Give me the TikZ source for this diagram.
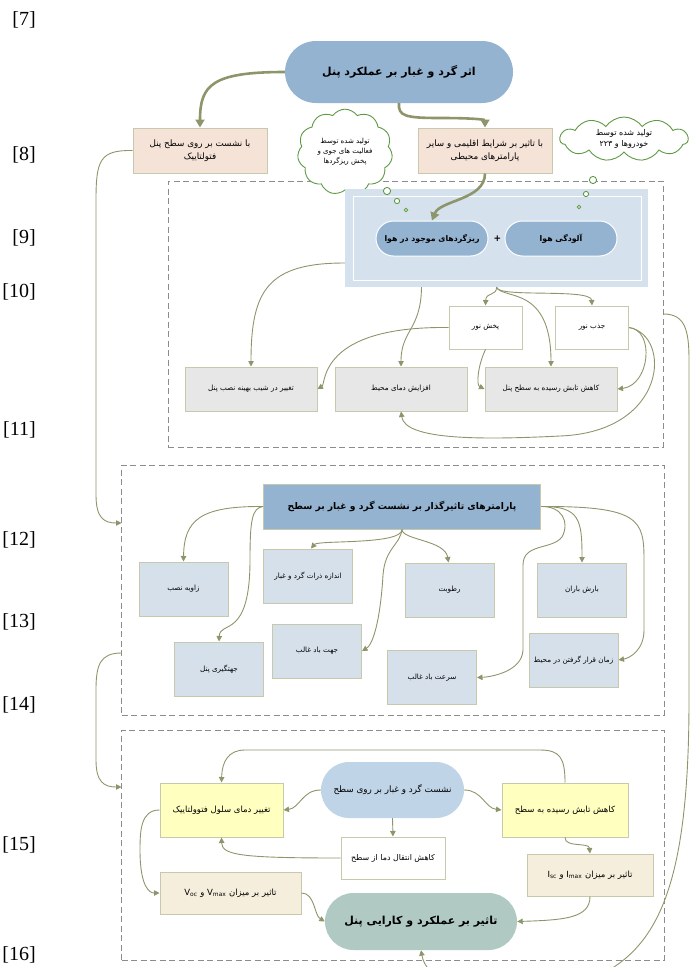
\documentclass[tikz,border=0pt]{standalone}
\usepackage{fontspec}
\setmainfont{Liberation Serif}
\newfontfamily\fa[Script=Arabic]{DejaVu Sans}
\TeXXeTstate=1
\newcommand\fatx[1]{\beginR #1\endR}
\usetikzlibrary{shapes.symbols,arrows.meta}
\definecolor{conn}{RGB}{141,150,107}
\definecolor{bord}{RGB}{198,201,172}
\definecolor{pblue}{RGB}{148,179,208}
\definecolor{peach}{RGB}{246,227,216}
\definecolor{gbox}{RGB}{232,231,232}
\definecolor{panelc}{RGB}{213,225,237}
\definecolor{lbox}{RGB}{213,224,235}
\definecolor{spill}{RGB}{191,212,231}
\definecolor{yel}{RGB}{255,255,192}
\definecolor{cream}{RGB}{245,238,220}
\definecolor{fpill}{RGB}{176,201,194}
\definecolor{cgreen}{RGB}{94,154,69}
\definecolor{dgray}{RGB}{140,140,140}
\begin{document}
\begin{tikzpicture}[x=1pt,y=-1pt,
  arr/.style={draw=conn, line width=0.9pt, -{Triangle[length=5.5pt,width=5.5pt]}},
  thk/.style={draw=conn, line width=2.6pt, -{Triangle[length=8pt,width=9pt]}},
  bx/.style={draw=bord, line width=1pt, inner sep=1pt, align=center, font=\fa\fontsize{7.2}{10}\selectfont},
  bxl/.style={bx, font=\fa\fontsize{8.5}{11}\selectfont},
  pillb/.style={draw=white, line width=1pt, fill=pblue, minimum width=112pt, minimum height=35pt, rounded corners=17.5pt, font=\fa\bfseries\fontsize{7.8}{9}\selectfont},
  cloudn/.style={cloud, cloud puffs=11, cloud puff arc=110, draw=cgreen, line width=0.9pt, fill=white, inner sep=0pt, align=center},
  bub/.style={draw=cgreen, line width=0.9pt, fill=white},
  dashbox/.style={draw=dgray, line width=0.9pt, dash pattern=on 6pt off 3.5pt, inner sep=0pt},
  lab/.style={anchor=east, inner sep=0pt, font=\fontsize{20}{24}\selectfont}
]
\useasboundingbox (0,0) rectangle (694,967);
% side labels
\node[lab] (l7) at (36,20) {[7]};
\node[lab] (l8) at (36,155) {[8]};
\node[lab] (l9) at (36,238) {[9]};
\node[lab] (l10) at (36,292) {[10]};
\node[lab] (l11) at (36,430) {[11]};
\node[lab] (l12) at (36,540) {[12]};
\node[lab] (l13) at (36,622) {[13]};
\node[lab] (l14) at (36,705) {[14]};
\node[lab] (l15) at (36,845) {[15]};
\node[lab] (l16) at (36,955) {[16]};

% dashed containers
\node[dashbox, minimum width=495pt, minimum height=266pt] (d1) at (415.5,314) {};
\node[dashbox, minimum width=542.5pt, minimum height=250pt] (d2) at (392.75,590) {};
\node[dashbox, minimum width=542.5pt, minimum height=230pt] (d3) at (392.75,845) {};

% top
\node[fill=pblue, minimum width=228pt, minimum height=62pt, rounded corners=31pt, font=\fa\bfseries\fontsize{11}{12}\selectfont] (top) at (399,72) {\fatx{اثر گرد و غبار بر عملکرد پنل}};
\node[bx, fill=peach, minimum width=134pt, minimum height=45pt, font=\fa\fontsize{8.8}{13}\selectfont] (b1) at (200,150.5) {\fatx{با نشست بر روی سطح پنل}\\\fatx{فتولتاییک}};
\node[bx, fill=peach, minimum width=134pt, minimum height=45pt, font=\fa\fontsize{8.8}{13}\selectfont] (b2) at (485,150.5) {\fatx{با تاثیر بر شرایط اقلیمی و سایر}\\\fatx{پارامترهای محیطی}};

% clouds
\node[cloudn, minimum width=95pt, minimum height=68pt, font=\fa\fontsize{7}{10}\selectfont] (c1) at (345,152) {\fatx{تولید شده توسط}\\\fatx{فعالیت های جوی و}\\\fatx{پخش ریزگردها}};
\node[cloudn, aspect=2.9, minimum width=128pt, minimum height=44pt, font=\fa\fontsize{8}{11}\selectfont] (c2) at (624,139) {\fatx{تولید شده توسط}\\\fatx{خودروها و ۲۲۳}};

% panel
\node[fill=panelc, minimum width=303pt, minimum height=98pt, inner sep=0pt] (panel) at (496.5,238) {};
\node[draw=white, line width=1pt, minimum width=288pt, minimum height=84pt, inner sep=0pt] (inner) at (497,238) {};
\draw[bub] (387,191) circle (3.6);
\draw[bub] (397,201) circle (2.6);
\draw[bub] (406,210) circle (1.8);
\draw[bub] (593,180) circle (3.6);
\draw[bub] (586,194) circle (2.6);
\draw[bub] (579,207) circle (1.8);
\node[pillb] (p1) at (432,238.5) {\fatx{ریزگردهای موجود در هوا}};
\node[pillb] (p2) at (561,238.5) {\fatx{آلودگی هوا}};
\node[font=\fa\bfseries\fontsize{9}{9}\selectfont, inner sep=0pt] (plus) at (497.5,239) {+};

% box1 nodes
\node[bx, fill=white, minimum width=73pt, minimum height=43pt] (w1) at (485.5,327.5) {\fatx{پخش نور}};
\node[bx, fill=white, minimum width=73pt, minimum height=43pt] (w2) at (592,327.5) {\fatx{جذب نور}};
\node[bx, fill=gbox, minimum width=132pt, minimum height=44pt] (g1) at (251,389) {\fatx{تغییر در شیب بهینه نصب پنل}};
\node[bx, fill=gbox, minimum width=132pt, minimum height=44pt] (g2) at (401,389) {\fatx{افزایش دمای محیط}};
\node[bx, fill=gbox, minimum width=132pt, minimum height=44pt] (g3) at (551,389) {\fatx{کاهش تابش رسیده به سطح پنل}};

% box2 nodes
\node[bx, fill=pblue, minimum width=277pt, minimum height=45pt, font=\fa\bfseries\fontsize{9.2}{12}\selectfont] (h) at (402,506.5) {\fatx{پارامترهای تاثیرگذار بر نشست گرد و غبار بر سطح}};
\node[bx, fill=lbox, minimum width=89pt, minimum height=54pt] (q1) at (183.5,589) {\fatx{زاویه نصب}};
\node[bx, fill=lbox, minimum width=89pt, minimum height=54pt] (q2) at (308,576) {\fatx{اندازه ذرات گرد و غبار}};
\node[bx, fill=lbox, minimum width=89pt, minimum height=54pt] (q3) at (449.5,590) {\fatx{رطوبت}};
\node[bx, fill=lbox, minimum width=89pt, minimum height=54pt] (q4) at (582,590) {\fatx{بارش باران}};
\node[bx, fill=lbox, minimum width=89pt, minimum height=54pt] (q5) at (219,669) {\fatx{جهتگیری پنل}};
\node[bx, fill=lbox, minimum width=89pt, minimum height=54pt] (q6) at (317,651) {\fatx{جهت باد غالب}};
\node[bx, fill=lbox, minimum width=89pt, minimum height=54pt] (q7) at (432,677.5) {\fatx{سرعت باد غالب}};
\node[bx, fill=lbox, minimum width=89pt, minimum height=54pt] (q8) at (573.5,660) {\fatx{زمان قرار گرفتن در محیط}};

% box3 nodes
\node[fill=spill, minimum width=143pt, minimum height=56pt, rounded corners=28pt, font=\fa\fontsize{8.8}{10}\selectfont] (s) at (392.5,790) {\fatx{نشست گرد و غبار بر روی سطح}};
\node[bxl, fill=yel, minimum width=123pt, minimum height=54pt] (y1) at (221.5,810) {\fatx{تغییر دمای سلول فتوولتاییک}};
\node[bxl, fill=yel, minimum width=126pt, minimum height=54pt] (y2) at (565,810) {\fatx{کاهش تابش رسیده به سطح}};
\node[bxl, fill=white, minimum width=104pt, minimum height=42pt, font=\fa\fontsize{7.9}{10}\selectfont] (t) at (393,858) {\fatx{کاهش انتقال دما از سطح}};
\node[bxl, fill=cream, minimum width=141pt, minimum height=42pt] (v) at (230.5,893) {\fatx{تاثیر بر میزان \beginL V\textsubscript{max}\endL{} و \beginL V\textsubscript{oc}\endL}};
\node[bxl, fill=cream, minimum width=126pt, minimum height=42pt] (i) at (590,875) {\fatx{تاثیر بر میزان \beginL I\textsubscript{max}\endL{} و \beginL I\textsubscript{sc}\endL}};
\node[fill=fpill, minimum width=192pt, minimum height=57pt, rounded corners=28.5pt, font=\fa\bfseries\fontsize{11}{12}\selectfont] (f) at (421,921.5) {\fatx{تاثیر بر عملکرد و کارایی پنل}};

% coordinates for container ends
\coordinate (d2in) at (121.5,523);
\coordinate (d2out) at (121.5,653);
\coordinate (d3in) at (121.5,787);

% thick arrows
\draw[thk] (top.west) .. controls (212,72) and (200,85) .. (b1.north);
\draw[thk] (top.south) .. controls (398,116) and (405,118) .. (440,118) .. controls (478,118) and (485,120) .. (b2.north);
\draw[thk] (b2.south) .. controls (485,200) and (440,200) .. (p1.north);

% box1 arrows
\draw[arr] ([yshift=-25pt]panel.west) .. controls (268,263) and (251,290) .. (g1.north);
\draw[arr] ([xshift=-75pt]panel.south) .. controls (421,330) and (401,330) .. (g2.north);
\draw[arr] (panel.south) .. controls (497,296) and (486,292) .. (w1.north);
\draw[arr] (panel.south) .. controls (497,298) and (591,288) .. (w2.north);
\draw[arr] (panel.south) .. controls (503,300) and (551,285) .. (g3.north);
\draw[arr] (w1.west) .. controls (318,326) and (326,384) .. (g1.east);
\draw[arr] (w1.south) .. controls (478,365) and (476,385) .. (g3.west);
\draw[arr] (w2.east) .. controls (655,330) and (650,385) .. (g3.east);
\draw[arr] (w2.east) .. controls (672,335) and (668,432) .. (560,436) .. controls (480,440) and (405,440) .. (g2.south);

% long connectors
\draw[arr] (b1.west) .. controls (100,150) and (96,160) .. (96,200) -- (96,495) .. controls (96,518) and (104,523) .. (d2in);
\draw[arr] (d2out) .. controls (100,653) and (96,665) .. (96,690) -- (96,760) .. controls (96,782) and (104,787) .. (d3in);
\draw[arr] (d1.east) .. controls (685,314) and (689,330) .. (689,360) -- (689,700) .. controls (689,880) and (660,945) .. (600,975) .. controls (540,1000) and (430,1000) .. (f.south);

% box2 arrows
\draw[arr] (h.west) .. controls (200,506) and (184,520) .. (q1.north);
\draw[arr] (h.west) .. controls (252,508) and (250,520) .. (250,560) .. controls (250,640) and (220,620) .. (q5.north);
\draw[arr] (h.south) .. controls (402,545) and (318,540) .. ([xshift=3pt]q2.north);
\draw[arr] (h.south) .. controls (402,540) and (445,540) .. ([xshift=-1pt]q3.north);
\draw[arr] (h.south) .. controls (400,545) and (385,548) .. (383,575) .. controls (380,625) and (372,645) .. (q6.east);
\draw[arr] (h.east) .. controls (580,506) and (582,520) .. (q4.north);
\draw[arr] (h.east) .. controls (562,506) and (570,522) .. (562,537) .. controls (552,550) and (523,543) .. (523,565) -- (523,650) .. controls (522,672) and (490,677) .. (q7.east);
\draw[arr] (h.east) .. controls (640,506) and (644,520) .. (644,560) -- (644,630) .. controls (644,650) and (630,658) .. (q8.east);

% box3 arrows
\draw[arr] (s.west) .. controls (302,790) and (300,808) .. (y1.east);
\draw[arr] (s.east) .. controls (482,790) and (485,808) .. (y2.west);
\draw[arr] (s.south) -- (t.north);
\draw[arr] (t.west) .. controls (240,858) and (222,855) .. (y1.south);
\draw[arr] (y2.north) .. controls (565,758) and (560,750) .. (540,750) -- (245,750) .. controls (228,750) and (222,762) .. (y1.north);
\draw[arr] (y1.west) .. controls (141,810) and (140,830) .. (140,850) .. controls (140,888) and (150,893) .. (v.west);
\draw[arr] (v.east) .. controls (315,893) and (314,915) .. (f.west);
\draw[arr] (y2.south) .. controls (565,848) and (589,842) .. (i.north);
\draw[arr] (i.south) .. controls (590,918) and (565,920) .. (f.east);
\end{tikzpicture}
\end{document}
